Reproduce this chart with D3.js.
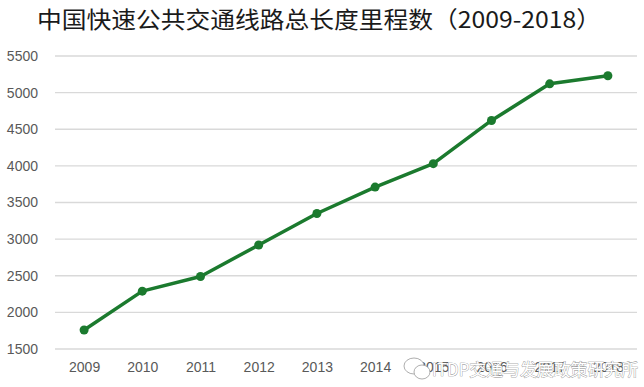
<!DOCTYPE html>
<html>
<head>
<meta charset="utf-8">
<script src="https://cdn.jsdelivr.net/npm/d3@7"></script>
<style>
  body { margin: 0; background: #fff; }
  svg { display: block; }
</style>
</head>
<body>
<script>
// data
const years = ['2009', '2010', '2011', '2012', '2013', '2014', '2015', '2016', '2017', '2018'];
const lengths = [1760, 2290, 2490, 2920, 3350, 3710, 4030, 4620, 5120, 5230];
const yTicks = [1500, 2000, 2500, 3000, 3500, 4000, 4500, 5000, 5500];
const title = '中国快速公共交通线路总长度里程数（2009-2018）';
const watermark = 'ITDP交通与发展政策研究所';

const W = 644, H = 387;
const svg = d3.select('body').append('svg')
    .attr('width', W)
    .attr('height', H)
    .attr('viewBox', `0 0 ${W} ${H}`);

const x = d3.scalePoint().domain(years).range([55, 637]).padding(0.5);
const y = d3.scaleLinear().domain([1500, 5500]).range([349, 56]);

// title
svg.append('text')
    .attr('x', 37)
    .attr('y', 27.5)
    .attr('font-family', '"Noto Sans CJK SC", sans-serif')
    .attr('font-size', 23)
    .attr('textLength', 564)
    .attr('lengthAdjust', 'spacingAndGlyphs')
    .attr('fill', '#1a1a1a')
    .text(title);

// grid
svg.append('g')
    .selectAll('line')
    .data(yTicks)
    .join('line')
    .attr('x1', 55)
    .attr('x2', 637)
    .attr('y1', d => y(d))
    .attr('y2', d => y(d))
    .attr('stroke', '#d9d9d9')
    .attr('stroke-width', 1.3);

// y axis labels
const yAxis = svg.append('g')
    .attr('transform', 'translate(38,0)')
    .call(d3.axisLeft(y).tickValues(yTicks).tickFormat(d3.format('d')).tickSize(0).tickPadding(0));
yAxis.select('.domain').remove();
yAxis.attr('font-family', '"Liberation Sans", Arial, sans-serif')
    .attr('font-size', 14);
yAxis.selectAll('text').attr('fill', '#595959');

// x axis labels
const xAxis = svg.append('g')
    .attr('transform', 'translate(0,362)')
    .call(d3.axisBottom(x).tickSize(0).tickPadding(0));
xAxis.select('.domain').remove();
xAxis.attr('font-family', '"Liberation Sans", Arial, sans-serif')
    .attr('font-size', 14);
xAxis.selectAll('text').attr('fill', '#595959');

// line
const line = d3.line()
    .x((d, i) => x(years[i]))
    .y(d => y(d));

svg.append('path')
    .datum(lengths)
    .attr('d', line)
    .attr('fill', 'none')
    .attr('stroke', '#1b7a2e')
    .attr('stroke-width', 3.5)
    .attr('stroke-linejoin', 'round');

svg.selectAll('circle.pt')
    .data(lengths)
    .join('circle')
    .attr('class', 'pt')
    .attr('cx', (d, i) => x(years[i]))
    .attr('cy', d => y(d))
    .attr('r', 4.5)
    .attr('fill', '#1b7a2e');

// watermark
const wm = svg.append('g').attr('transform', 'translate(404,370)');
wm.append('ellipse')
    .attr('cx', 10).attr('cy', -4).attr('rx', 10).attr('ry', 8)
    .attr('fill', '#fff').attr('stroke', '#999').attr('stroke-width', 0.8);
wm.append('ellipse')
    .attr('cx', 18).attr('cy', 2).attr('rx', 8).attr('ry', 7)
    .attr('fill', '#fff').attr('stroke', '#999').attr('stroke-width', 0.8);
wm.append('text')
    .attr('x', 28)
    .attr('y', 6)
    .attr('font-family', '"Noto Sans CJK SC", sans-serif')
    .attr('font-size', 17)
    .attr('textLength', 206)
    .attr('lengthAdjust', 'spacingAndGlyphs')
    .attr('fill', '#fff')
    .attr('stroke', '#888')
    .attr('stroke-width', 0.7)
    .attr('paint-order', 'stroke')
    .text(watermark);
</script>
</body>
</html>
